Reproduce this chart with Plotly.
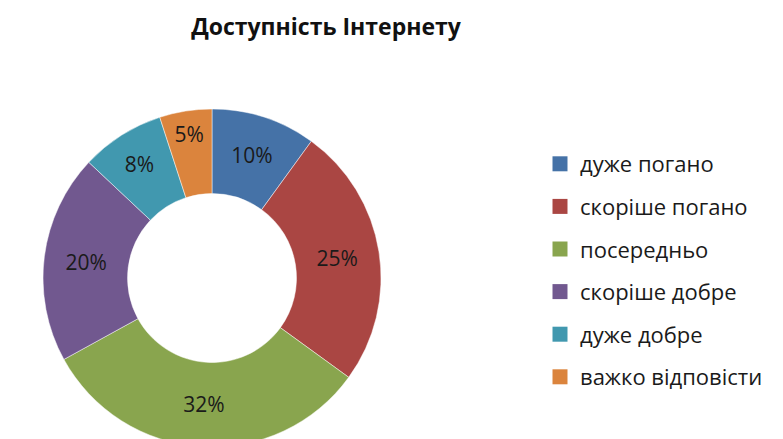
import plotly.graph_objects as go

title = "Доступність Інтернету"
categories = ["дуже погано", "скоріше погано", "посередньо", "скоріше добре", "дуже добре", "важко відповісти"]
values = [10, 25, 32, 20, 8, 5]
colors = ["#4572A7", "#AA4643", "#89A54E", "#71588F", "#4198AF", "#DB843D"]

W, H = 783, 439
FONT = "Open Sans"

fig = go.Figure()
fig.add_trace(go.Pie(
    labels=categories, values=values, sort=False, direction="clockwise", rotation=0,
    hole=0.5,
    marker=dict(colors=colors, line=dict(color="rgba(255,255,255,0.6)", width=0.8)),
    texttemplate="%{percent:.0%}", textposition="inside", insidetextorientation="horizontal",
    textfont=dict(family=FONT, size=21, color="#1a1a1a"),
    domain=dict(x=[35 / W, 373 / W], y=[0, (H - 101) / H]),
    showlegend=False, hoverinfo="label+percent",
))

for i, (name, c) in enumerate(zip(categories, colors)):
    fig.add_trace(go.Scatter(
        x=[None], y=[None], mode="markers", name=name, legendgroup=f"g{i}",
        marker=dict(symbol="square", size=15, color=c),
    ))

fig.update_layout(
    width=W, height=H, margin=dict(l=0, r=0, t=0, b=0),
    paper_bgcolor="white", plot_bgcolor="white",
    title=dict(text=f"<b>{title}</b>", x=318 / W, xanchor="center", y=1 - 19 / H, yanchor="middle",
               font=dict(family=FONT, size=23, color="#111111")),
    xaxis=dict(visible=False), yaxis=dict(visible=False),
    legend=dict(x=532 / W, xanchor="left", y=1 - 135 / H, yanchor="top",
                font=dict(family=FONT, size=22, color="#1a1a1a"),
                tracegroupgap=11, itemclick=False),
)

fig.write_html("out.html")
